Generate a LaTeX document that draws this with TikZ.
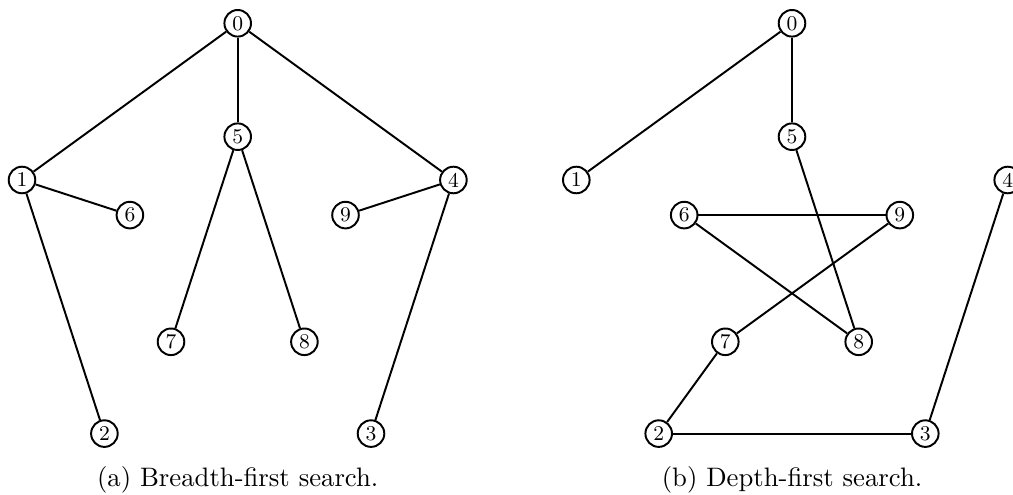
\documentclass[tikz,border=0pt]{standalone}
\begin{document}
\begin{tikzpicture}[x=0.41pt,y=-0.41pt,
  vtx/.style={circle,draw,line width=0.8pt,inner sep=0pt,minimum size=10.9pt,font=\fontsize{8.6}{10}\selectfont,fill=white},
  edge/.style={line width=0.8pt},
  captext/.style={anchor=base,font=\fontsize{10.95}{13.6}\selectfont}]
\useasboundingbox (0,0) rectangle (1013,495);
% left graph (BFS)
\node[vtx] (a0) at (237.7,23.3) {0};
\node[vtx] (a1) at (22,180) {1};
\node[vtx] (a4) at (453.4,180) {4};
\node[vtx] (a2) at (104.4,433.6) {2};
\node[vtx] (a3) at (371,433.6) {3};
\node[vtx] (a5) at (237.7,136.7) {5};
\node[vtx] (a6) at (129.9,215.1) {6};
\node[vtx] (a9) at (345.5,215.1) {9};
\node[vtx] (a7) at (171,341.8) {7};
\node[vtx] (a8) at (304.4,341.8) {8};
\draw[edge] (a0) -- (a1);
\draw[edge] (a0) -- (a5);
\draw[edge] (a0) -- (a4);
\draw[edge] (a1) -- (a6);
\draw[edge] (a1) -- (a2);
\draw[edge] (a5) -- (a7);
\draw[edge] (a5) -- (a8);
\draw[edge] (a4) -- (a9);
\draw[edge] (a4) -- (a3);
\node[captext] (capa) at (237.7,487) {(a) Breadth-first search.};
% right graph (DFS)
\node[vtx] (b0) at (792,23.3) {0};
\node[vtx] (b1) at (576.3,180) {1};
\node[vtx] (b4) at (1007.7,180) {4};
\node[vtx] (b2) at (658.7,433.6) {2};
\node[vtx] (b3) at (925.3,433.6) {3};
\node[vtx] (b5) at (792,136.7) {5};
\node[vtx] (b6) at (684.2,215.1) {6};
\node[vtx] (b9) at (899.8,215.1) {9};
\node[vtx] (b7) at (725.3,341.8) {7};
\node[vtx] (b8) at (858.7,341.8) {8};
\draw[edge] (b0) -- (b1);
\draw[edge] (b0) -- (b5);
\draw[edge] (b5) -- (b8);
\draw[edge] (b8) -- (b6);
\draw[edge] (b6) -- (b9);
\draw[edge] (b9) -- (b7);
\draw[edge] (b7) -- (b2);
\draw[edge] (b2) -- (b3);
\draw[edge] (b3) -- (b4);
\node[captext] (capb) at (792,487) {(b) Depth-first search.};
\end{tikzpicture}
\end{document}
